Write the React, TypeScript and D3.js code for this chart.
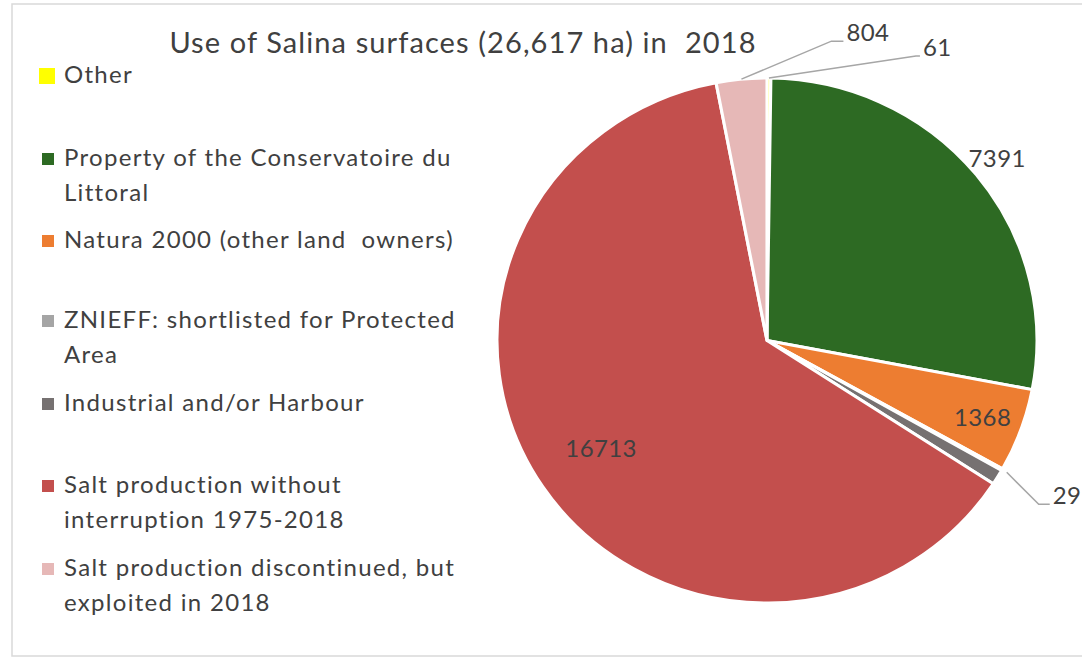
import React from "react";
import * as d3 from "d3";

const categories = [
  "Other",
  "Property of the Conservatoire du Littoral",
  "Natura 2000 (other land  owners)",
  "ZNIEFF: shortlisted for Protected Area",
  "Industrial and/or Harbour",
  "Salt production without interruption 1975-2018",
  "Salt production discontinued, but exploited in 2018",
];
const legendLines = [
  ["Other"],
  ["Property of the Conservatoire du", "Littoral"],
  ["Natura 2000 (other land  owners)"],
  ["ZNIEFF: shortlisted for Protected", "Area"],
  ["Industrial and/or Harbour"],
  ["Salt production without", "interruption 1975-2018"],
  ["Salt production discontinued, but", "exploited in 2018"],
];
const values = [61, 7391, 1368, 29, 251, 16713, 804];
const shownLabels = [true, true, true, true, false, true, true];
const colors = ["#FFFF00", "#2D6A23", "#ED7D31", "#A5A5A5", "#767171", "#C34F4D", "#E6B8B7"];
const title = "Use of Salina surfaces (26,617 ha) in  2018";

const W = 1082, H = 658;
const cx = 767, cy = 340.5, R = 262.5, sx = 270 / 262.5;
const FONT = "Lato, 'Open Sans', sans-serif";
const TXT = "#404040";

// label layout per slice: inside (radius factor) or leader (elbow offset)
const labelLayout: any[] = [
  { type: "leader", rs: 1.0, dx: 147, dy: -22, h: 4 },
  { type: "inside", r: 1.1 },
  { type: "inside", r: 0.85 },
  { type: "leader", rs: 1.02, dx: 32, dy: 32, h: 11 },
  null,
  { type: "inside", r: 0.74 },
  { type: "leader", rs: 1.0, dx: 90, dy: -38, h: 12 },
];
const legendRowY = [83, 166, 248, 328, 411, 493, 576];

export default function App() {
  const data = values.map((v, i) => ({ v, i }));
  const pie = d3.pie<any>().sort(null).value((d) => d.v).startAngle(0).endAngle(2 * Math.PI);
  const arcs = pie(data);
  const arc = d3.arc<any>().innerRadius(0).outerRadius(R);
  const polar = (a: number, r: number): [number, number] => [
    cx + r * sx * Math.sin(a),
    cy - r * Math.cos(a),
  ];
  const pre = { whiteSpace: "pre" as const };

  return (
    <svg width={W} height={H} style={{ position: "absolute", left: 0, top: 0, background: "#fff" }}>
      <rect x={12} y={4} width={W} height={652} fill="#fff" stroke="#D9D9D9" strokeWidth={1.5} />
      <text x={463} y={53} textAnchor="middle" fontFamily={FONT} fontSize={29} letterSpacing={1.1} fill={TXT} style={pre}>
        {title}
      </text>
      <g transform={`translate(${cx},${cy}) scale(${sx},1)`}>
        {arcs.map((a) => (
          <path key={a.index} d={arc(a) || ""} fill={colors[a.index]} stroke="#fff" strokeWidth={3} strokeLinejoin="round" />
        ))}
      </g>
      {arcs.map((a) => {
        const L = labelLayout[a.index];
        if (!L || !shownLabels[a.index]) return null;
        const mid = (a.startAngle + a.endAngle) / 2;
        const label = String(values[a.index]);
        if (L.type === "inside") {
          const [x, y] = polar(mid, L.r * R);
          return (
            <text key={"l" + a.index} x={x} y={y} dy="0.36em" textAnchor="middle" fontFamily={FONT} fontSize={24} letterSpacing={0.4} fill={TXT}>
              {label}
            </text>
          );
        }
        const [x0, y0] = polar(mid, L.rs * R);
        const x1 = x0 + L.dx, y1 = y0 + L.dy;
        const x2 = x1 + L.h;
        return (
          <g key={"l" + a.index}>
            <polyline points={`${x0},${y0} ${x1},${y1} ${x2},${y1}`} fill="none" stroke="#A6A6A6" strokeWidth={1.5} />
            <text x={x2 + 3} y={y1} fontFamily={FONT} fontSize={24} letterSpacing={0.4} fill={TXT}>
              {label}
            </text>
          </g>
        );
      })}
      {legendLines.map((lines, i) => {
        const y = legendRowY[i];
        const big = i === 0;
        const s = big ? 16 : 12;
        return (
          <g key={"lg" + i}>
            <rect x={big ? 39 : 42} y={y - 7 - s / 2} width={s} height={s} fill={colors[i]} />
            {lines.map((t, j) => (
              <text key={j} x={64} y={y + j * 35} fontFamily={FONT} fontSize={24} letterSpacing={1.3} fill={TXT} style={pre}>
                {t}
              </text>
            ))}
          </g>
        );
      })}
    </svg>
  );
}
